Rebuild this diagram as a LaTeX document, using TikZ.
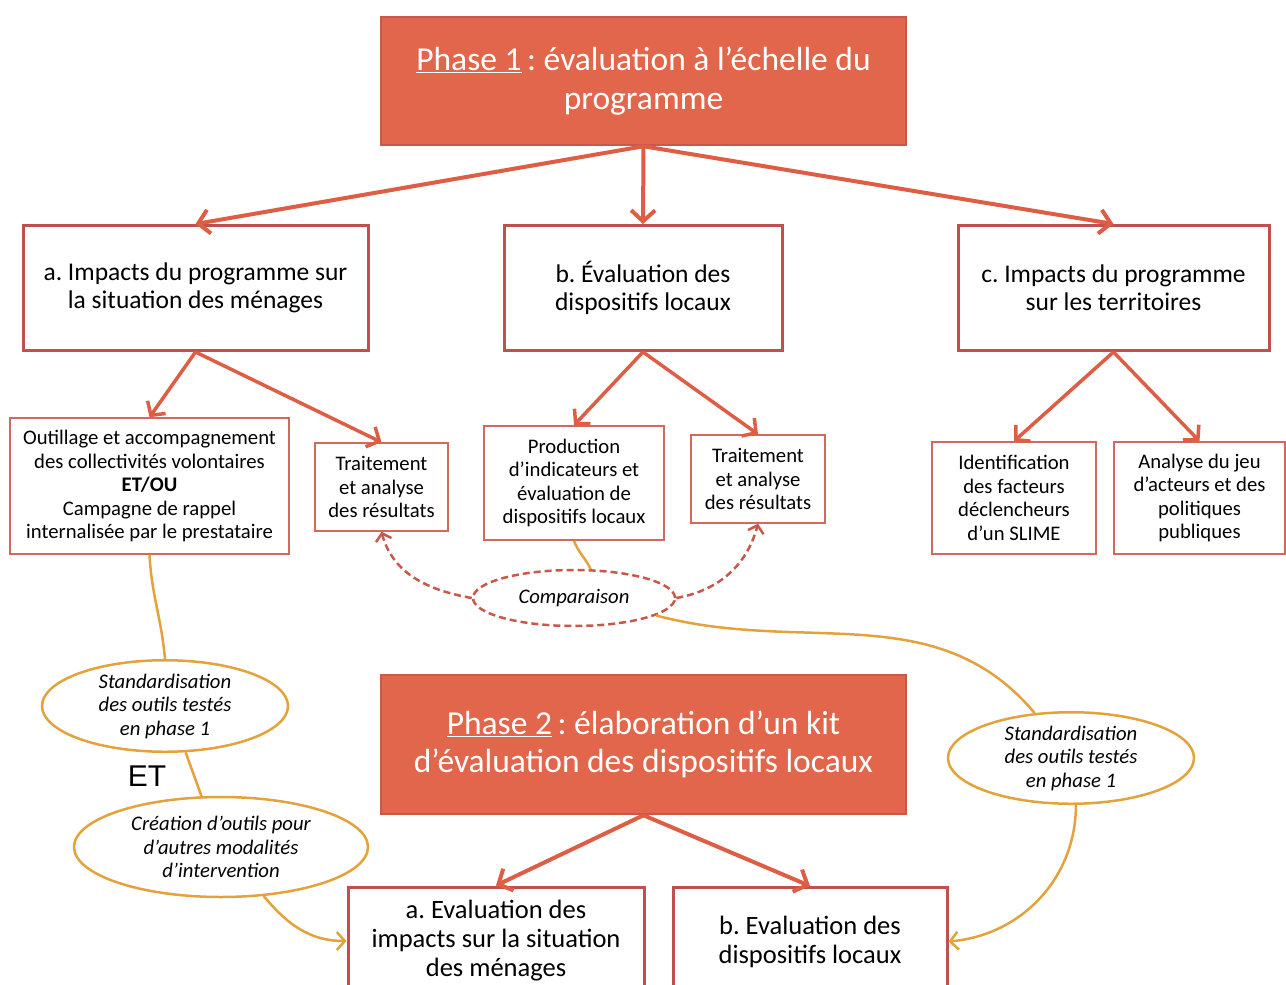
\documentclass[tikz,border=0pt]{standalone}
\usepackage{fontspec}
\setmainfont{Carlito}
\newfontfamily\etfont{Liberation Sans}
\usepackage{xcolor}
\usetikzlibrary{arrows.meta,shapes.geometric}
\definecolor{phasefill}{HTML}{E2664B}
\definecolor{phaseline}{HTML}{C8594A}
\definecolor{boxline}{HTML}{C0504D}
\definecolor{thinline}{HTML}{D06A5C}
\definecolor{arrowred}{HTML}{DD5E45}
\definecolor{dashred}{HTML}{C9584A}
\definecolor{gold}{HTML}{E3A23C}
\frenchspacing

\begin{document}
\begin{tikzpicture}[x=1pt,y=-1pt]
    \tikzstyle{phase} = [draw=phaseline,line width=2.5pt,fill=phasefill,text=white,inner sep=0pt,align=center,font=\fontsize{33.5}{38.5}\selectfont]
    \tikzstyle{axisbox} = [draw=boxline,line width=3pt,fill=white,minimum height=125pt,inner sep=0pt,align=center,font=\fontsize{25.5}{28}\selectfont]
    \tikzstyle{kitbox} = [draw=boxline,line width=3pt,fill=white,minimum height=108pt,inner sep=0pt,align=center,font=\fontsize{26.5}{29}\selectfont]
    \tikzstyle{taskbox} = [draw=thinline,line width=1.5pt,fill=white,inner sep=0pt,align=center,font=\fontsize{20.7}{23.5}\selectfont]
    \tikzstyle{bubble} = [ellipse,draw=gold,line width=2.5pt,fill=white,inner sep=0pt,align=center,font=\fontsize{20.7}{23.5}\selectfont\itshape]
    \tikzstyle{link} = [draw=arrowred,line width=4pt,-{Straight Barb[length=11pt,width=24pt]}]
    \tikzstyle{sublink} = [draw=arrowred,line width=3.5pt,-{Straight Barb[length=10pt,width=22pt]}]
    \tikzstyle{cmplink} = [draw=dashred,line width=2.5pt,dash pattern=on 7pt off 4pt,-{Straight Barb[length=7pt,width=16pt]}]
    \tikzstyle{goldline} = [draw=gold,line width=2.5pt]
    \tikzstyle{goldlink} = [draw=gold,line width=2.5pt,-{Straight Barb[length=8pt,width=18pt]}]
    \useasboundingbox (0,0) rectangle (1286,985);

    \node[phase,minimum width=525pt,minimum height=128pt] (ph1) at (643.5,81) {\underline{Phase 1}\,: évaluation à l’échelle du\\programme};

    \node[axisbox,minimum width=345pt] (ia) at (195.5,288) {a. Impacts du programme sur\\la situation des ménages};
    \node[axisbox,minimum width=278pt] (ib) at (643,288) {b. Évaluation des\\dispositifs locaux};
    \node[axisbox,minimum width=311pt] (ic) at (1113.5,288) {c. Impacts du programme\\sur les territoires};

    \node[taskbox,minimum width=279pt,minimum height=136pt] (ia1) at (149.5,486) {Outillage et accompagnement\\des collectivités volontaires\\\textbf{ET/OU}\\Campagne de rappel\\internalisée par le prestataire};
    \node[taskbox,minimum width=133pt,minimum height=88pt] (ia2) at (381.5,487) {Traitement\\et analyse\\des résultats};
    \node[taskbox,minimum width=180pt,minimum height=114pt] (ib1) at (574,483) {Production\\d’indicateurs et\\évaluation de\\dispositifs locaux};
    \node[taskbox,minimum width=134pt,minimum height=88pt] (ib2) at (758,479) {Traitement\\et analyse\\des résultats};
    \node[taskbox,minimum width=164pt,minimum height=112pt] (ic1) at (1014,498) {Identification\\des facteurs\\déclencheurs\\d’un SLIME};
    \node[taskbox,minimum width=171pt,minimum height=112pt] (ic2) at (1199.5,498) {Analyse du jeu\\d’acteurs et des\\politiques\\publiques};

    \draw[link] (ph1.south) -- (ia.north);
    \draw[link] (ph1.south) -- (ib.north);
    \draw[link] (ph1.south) -- (ic.north);
    \draw[sublink] (ia.south) -- (ia1.north);
    \draw[sublink] (ia.south) -- (ia2.north);
    \draw[sublink] (ib.south) -- (ib1.north);
    \draw[sublink] (ib.south) -- (ib2.north);
    \draw[sublink] (ic.south) -- (ic1.north);
    \draw[sublink] (ic.south) -- (ic2.north);

    \node[bubble,draw=dashred,dash pattern=on 7pt off 4pt,minimum width=202pt,minimum height=56pt] (cmp) at (574,598) {Comparaison};
    \draw[cmplink] (cmp.west) to[out=170,in=-75] (ia2.south);
    \draw[cmplink] (cmp.east) to[out=10,in=-105] (ib2.south);
    \draw[goldline] (ib1.south) to[out=-70,in=115] (cmp.60);

    \node[phase,minimum width=525pt,minimum height=139pt] (ph2) at (643.5,744.5) {\underline{Phase 2}\,: élaboration d’un kit\\d’évaluation des dispositifs locaux};
    \node[kitbox,minimum width=296pt] (ka) at (496,941) {a. Evaluation des\\impacts sur la situation\\des ménages};
    \node[kitbox,minimum width=274pt] (kb) at (810,941.5) {b. Evaluation des\\dispositifs locaux};
    \draw[link] (ph2.south) -- (ka.north);
    \draw[link] (ph2.south) -- (kb.north);

    \node[bubble,minimum width=246pt,minimum height=80pt] (stdl) at (165,706) {Standardisation\\des outils testés\\en phase 1};
    \node[bubble,minimum width=294pt,minimum height=100pt] (crea) at (221,847) {Création d’outils pour\\d’autres modalités\\d’intervention};
    \node[bubble,minimum width=246pt,minimum height=84pt] (stdr) at (1071,758) {Standardisation\\des outils testés\\en phase 1};
    \node[font=\etfont\fontsize{30}{30}\selectfont] (et) at (147,776) {ET};

    \draw[goldline] (ia1.south) to[out=-87,in=95] (stdl.north);
    \draw[goldline] (stdl.-66) -- (crea.111);
    \draw[goldlink] (crea.-49) to[out=-50,in=180] (ka.west);
    \draw[goldline] (cmp.-12) to[out=-15,in=130] (stdr.129);
    \draw[goldlink] (stdr.-84) to[out=-90,in=5] (kb.east);
\end{tikzpicture}
\end{document}
